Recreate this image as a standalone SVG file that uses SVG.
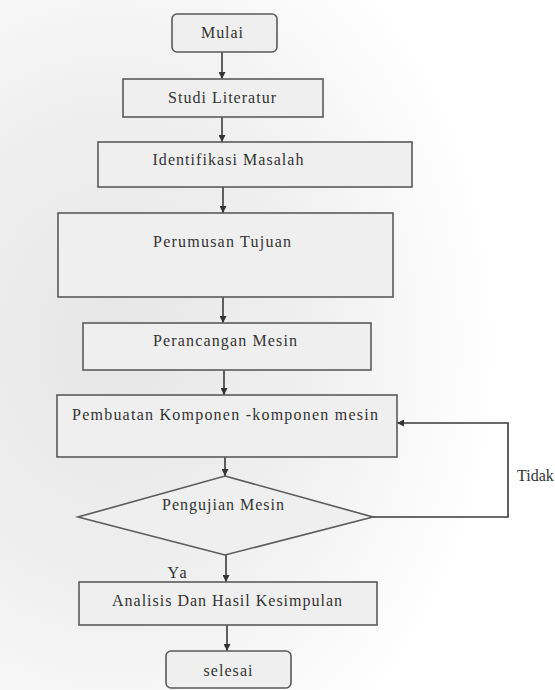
<svg xmlns="http://www.w3.org/2000/svg" width="555" height="690" viewBox="0 0 555 690">
<defs>
<radialGradient id="bg" cx="0.2" cy="0.5" r="0.7">
<stop offset="0" stop-color="#e6e6e6"/>
<stop offset="0.5" stop-color="#efefef"/>
<stop offset="1" stop-color="#ffffff"/>
</radialGradient>
<marker id="ah" viewBox="0 0 10 10" refX="10" refY="5" markerWidth="7" markerHeight="7" markerUnits="userSpaceOnUse" orient="auto">
<path d="M0,0 L10,5 L0,10 z" fill="#333"/>
</marker>
</defs>
<style>
.box{fill:#efefef;stroke:#5a5a5a;stroke-width:1.6}
.t{font-family:"Liberation Serif","Times New Roman","DejaVu Serif",serif;font-size:16px;fill:#333;text-anchor:middle}
.c{fill:none;stroke:#3a3a3a;stroke-width:1.6}
</style>
<rect x="0" y="0" width="555" height="690" fill="url(#bg)"/>
<g id="connectors">
<line class="c" x1="222" y1="52" x2="222" y2="79" marker-end="url(#ah)"/>
<line class="c" x1="222" y1="117" x2="222" y2="142" marker-end="url(#ah)"/>
<line class="c" x1="223" y1="187" x2="223" y2="213" marker-end="url(#ah)"/>
<line class="c" x1="223" y1="297" x2="223" y2="323" marker-end="url(#ah)"/>
<line class="c" x1="224" y1="370" x2="224" y2="395" marker-end="url(#ah)"/>
<line class="c" x1="225" y1="457" x2="225" y2="476" marker-end="url(#ah)"/>
<line class="c" x1="226" y1="555" x2="226" y2="582" marker-end="url(#ah)"/>
<line class="c" x1="227" y1="625" x2="227" y2="651" marker-end="url(#ah)"/>
<polyline class="c" points="373,517 508,517 508,423 397,423" marker-end="url(#ah)"/>
<text class="t" x="177" y="578" textLength="19">Ya</text>
<text class="t" x="517" y="481" style="text-anchor:start">Tidak</text>
</g>
<g id="mulai">
<rect class="box" x="172" y="14" width="105" height="38" rx="5" fill="#f6f6f6"/>
<text class="t" x="222" y="38" textLength="42">Mulai</text>
</g>
<g id="studi">
<rect class="box" x="123" y="79" width="200" height="38"/>
<text class="t" x="222" y="103" textLength="108">Studi Literatur</text>
</g>
<g id="identifikasi">
<rect class="box" x="98" y="142" width="314" height="45"/>
<text class="t" x="228" y="165" textLength="151">Identifikasi Masalah</text>
</g>
<g id="perumusan">
<rect class="box" x="58" y="213" width="335" height="84"/>
<text class="t" x="222" y="247" textLength="138">Perumusan Tujuan</text>
</g>
<g id="perancangan">
<rect class="box" x="83" y="323" width="288" height="47"/>
<text class="t" x="225" y="346" textLength="144">Perancangan Mesin</text>
</g>
<g id="pembuatan">
<rect class="box" x="57" y="395" width="340" height="62"/>
<text class="t" x="225" y="420" textLength="306">Pembuatan Komponen -komponen mesin</text>
</g>
<g id="pengujian">
<polygon class="box" points="225,476 373,517 225,555 78,517"/>
<text class="t" x="223" y="510" textLength="122">Pengujian Mesin</text>
</g>
<g id="analisis">
<rect class="box" x="79" y="582" width="298" height="43" fill="#f6f6f6"/>
<text class="t" x="227" y="606" textLength="230">Analisis Dan Hasil Kesimpulan</text>
</g>
<g id="selesai">
<rect class="box" x="166" y="651" width="125" height="37" rx="5" fill="#f6f6f6"/>
<text class="t" x="228" y="676" textLength="49">selesai</text>
</g>
</svg>
